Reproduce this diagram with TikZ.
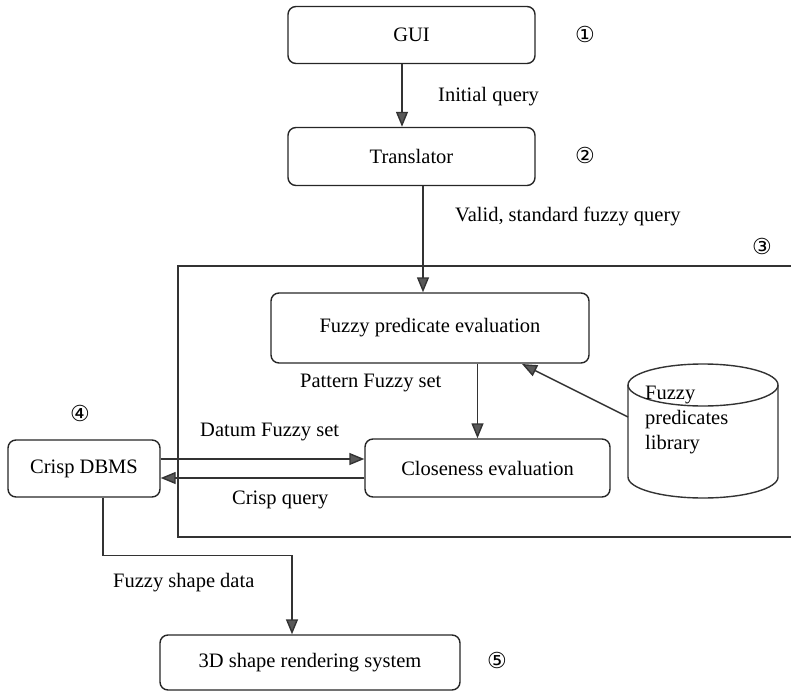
\documentclass[tikz,border=0pt]{standalone}
\usepackage{fontspec}
\setmainfont{Liberation Serif}
\newfontfamily\circfont{DejaVu Sans}
\usetikzlibrary{arrows.meta,calc}
\begin{document}
\begin{tikzpicture}[x=1pt,y=-1pt,
  every node/.style={font=\fontsize{20.5}{24}\selectfont},
  boxnode/.style={draw=black!85,line width=1.4pt,rounded corners=8pt,inner sep=0pt},
  lbl/.style={inner sep=0pt},
  num/.style={inner sep=0pt,font=\circfont\fontsize{22}{24}\selectfont},
  ln/.style={draw=black!80,line width=1.4pt},
  arr/.style={ln,-{Triangle[length=15pt,width=12pt,fill=black!65]}}]
\useasboundingbox (0,0) rectangle (791,692);
% boxes
\node[boxnode,minimum width=247pt,minimum height=57pt] (GUI) at (411.5,35) {GUI};
\node[boxnode,minimum width=247pt,minimum height=58pt] (Tr) at (411.5,156.5) {Translator};
\node[boxnode,minimum width=318pt,minimum height=70pt] (FPE) at (430,328) {Fuzzy predicate evaluation};
\node[boxnode,minimum width=245pt,minimum height=58pt] (CE) at (487.5,468) {Closeness evaluation};
\node[boxnode,minimum width=152pt,minimum height=57pt] (DB) at (84,468.5) {Crisp DBMS};
\node[boxnode,minimum width=300pt,minimum height=55pt] (R3) at (310,662.5) {3D shape rendering system};
% enclosing frame
\draw[ln] (791,266) -- (178,266) -- (178,537) -- (791,537);
% cylinder
\draw[ln] (628,385) -- (628,477) arc[start angle=180,end angle=0,x radius=75,y radius=21] -- (778,385);
\draw[ln] (703,385) ellipse[x radius=75,y radius=21];
\node[lbl,align=left,anchor=north west,font=\fontsize{20.5}{25}\selectfont] (lib) at (645,386) {Fuzzy\\predicates\\library};
\coordinate (cylL) at (628,417);
\coordinate (fpeIn) at (522,364);
% numbers
\node[num] (n1) at (585,34) {①};
\node[num] (n2) at (585,155) {②};
\node[num] (n3) at (762,246) {③};
\node[num] (n4) at (80,413) {④};
\node[num] (n5) at (497,660) {⑤};
% arrows
\draw[arr] ([xshift=-9.5pt]GUI.south) -- ([xshift=-9.5pt]GUI.south |- Tr.north);
\draw[arr] ([xshift=11.5pt]Tr.south) -- ([xshift=11.5pt]Tr.south |- FPE.north);
\draw[arr] ([xshift=-10pt]CE.north |- FPE.south) -- ([xshift=-10pt]CE.north);
\draw[arr] (cylL) -- (fpeIn);
\draw[arr] ([yshift=9.5pt]DB.east) -- ([yshift=9.5pt]DB.east -| CE.west);
\draw[arr] ([yshift=-9.5pt]DB.east -| CE.west) -- ([yshift=-9.5pt]DB.east);
\draw[arr] ([xshift=19pt]DB.south) -- ++(0,58) -| ([xshift=-18pt]R3.north);
% labels
\node[lbl,anchor=west] (l1) at (438,97) {Initial query};
\node[lbl,anchor=west] (l2) at (455,216) {Valid, standard fuzzy query};
\node[lbl,anchor=west] (l3) at (300,383) {Pattern Fuzzy set};
\node[lbl,anchor=west] (l4) at (200,432) {Datum Fuzzy set};
\node[lbl,anchor=west] (l5) at (232,500) {Crisp query};
\node[lbl,anchor=west] (l6) at (113,583) {Fuzzy shape data};
\end{tikzpicture}
\end{document}
